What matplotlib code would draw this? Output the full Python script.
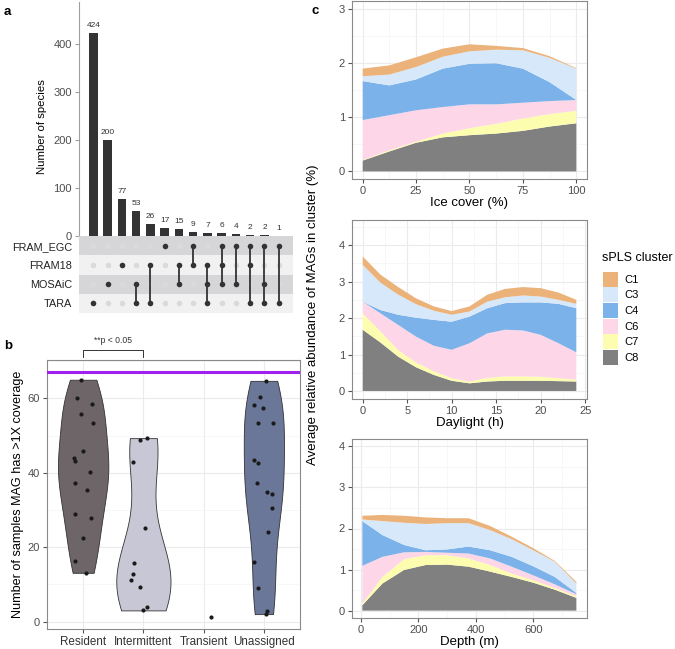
import numpy as np
import matplotlib
matplotlib.use("Agg")
import matplotlib.pyplot as plt
from matplotlib.patches import Patch

plt.rcParams['font.family'] = ['Liberation Sans', 'DejaVu Sans']

# ---- panel a: set intersections
set_names = ["FRAM_EGC", "FRAM18", "MOSAiC", "TARA"]
inter_sizes = [424, 200, 77, 53, 26, 17, 15, 9, 7, 6, 4, 2, 2, 1]
inter_members = [
    ["TARA"], ["MOSAiC"], ["FRAM18"], ["MOSAiC", "TARA"], ["FRAM18", "TARA"],
    ["FRAM_EGC"], ["FRAM18", "MOSAiC"], ["FRAM_EGC", "FRAM18"],
    ["FRAM18", "MOSAiC", "TARA"], ["FRAM_EGC", "FRAM18", "MOSAiC"],
    ["FRAM_EGC", "MOSAiC"], ["FRAM_EGC", "FRAM18", "TARA"],
    ["FRAM_EGC", "MOSAiC", "TARA"], ["FRAM_EGC", "TARA"]]

# ---- panel b: samples with >1X coverage per MAG
groups = ["Resident", "Intermittent", "Transient", "Unassigned"]
resident = [65.0, 60.0, 58.4, 55.8, 53.3, 45.8, 44.0, 43.1, 40.1, 37.2, 35.4, 28.9, 27.8, 22.4, 16.3, 13.1]
resident_jit = [-0.03, -0.10, 0.14, -0.04, 0.17, 0.0, -0.16, -0.13, 0.12, -0.13, 0.07, -0.14, 0.13, 0.0, -0.13, 0.05]
intermittent = [48.7, 49.3, 42.8, 25.2, 15.8, 12.7, 11.2, 9.4, 4.0, 3.0]
intermittent_jit = [-0.05, 0.06, -0.17, 0.02, -0.15, -0.17, -0.20, -0.05, 0.06, -0.01]
transient = [1.3]
transient_jit = [0.12]
unassigned = [64.7, 60.3, 58.2, 57.4, 53.3, 53.3, 43.5, 42.6, 37.2, 34.9, 34.2, 30.4, 24.0, 16.0, 9.1, 2.9, 2.0]
unassigned_jit = [0.04, -0.06, -0.17, -0.01, -0.10, 0.16, -0.16, -0.09, -0.12, 0.05, 0.13, 0.13, 0.07, -0.17, -0.10, 0.06, 0.04]
violin_colors = ["#6d6568", "#c7c7d5", "#9a9aaa", "#6b7799"]
total_samples = 67

# ---- panel c: stacked cluster abundance (%)
clusters = ["C1", "C3", "C4", "C6", "C7", "C8"]
cluster_colors = ["#ebb27a", "#d6e8fa", "#7ab2e9", "#fdd6e8", "#fdfdb0", "#808080"]

ice_cover = [0, 12.5, 25, 37.5, 50, 62.5, 75, 87.5, 100]
ice_c8 = [0.20, 0.37, 0.53, 0.63, 0.67, 0.70, 0.75, 0.83, 0.89]
ice_c7 = [0.01, 0.02, 0.02, 0.07, 0.13, 0.18, 0.23, 0.23, 0.23]
ice_c6 = [0.74, 0.65, 0.58, 0.49, 0.44, 0.36, 0.29, 0.24, 0.20]
ice_c4 = [0.72, 0.55, 0.57, 0.71, 0.75, 0.76, 0.63, 0.35, 0.00]
ice_c3 = [0.09, 0.20, 0.23, 0.22, 0.23, 0.25, 0.34, 0.45, 0.58]
ice_c1 = [0.14, 0.17, 0.18, 0.15, 0.13, 0.07, 0.04, 0.03, 0.01]

daylight = [0, 2, 4, 6, 8, 10, 12, 14, 16, 18, 20, 22, 24]
day_c8 = [1.68, 1.33, 0.94, 0.65, 0.44, 0.28, 0.21, 0.26, 0.28, 0.28, 0.28, 0.27, 0.26]
day_c7 = [0.45, 0.30, 0.18, 0.13, 0.10, 0.07, 0.05, 0.10, 0.12, 0.12, 0.11, 0.08, 0.05]
day_c6 = [0.32, 0.50, 0.69, 0.71, 0.70, 0.78, 1.05, 1.22, 1.28, 1.26, 1.15, 0.96, 0.75]
day_c4 = [0.00, 0.09, 0.28, 0.52, 0.71, 0.77, 0.73, 0.69, 0.73, 0.77, 0.89, 1.08, 1.21]
day_c3 = [1.01, 0.75, 0.55, 0.37, 0.25, 0.19, 0.14, 0.18, 0.16, 0.19, 0.16, 0.11, 0.12]
day_c1 = [0.23, 0.22, 0.21, 0.16, 0.12, 0.10, 0.14, 0.19, 0.23, 0.23, 0.23, 0.20, 0.11]

depth = [5, 75, 150, 225, 300, 375, 450, 525, 600, 675, 750]
dep_c8 = [0.13, 0.66, 0.99, 1.11, 1.12, 1.07, 0.95, 0.82, 0.68, 0.51, 0.31]
dep_c7 = [0.04, 0.16, 0.26, 0.24, 0.23, 0.20, 0.16, 0.08, 0.06, 0.04, 0.04]
dep_c6 = [0.92, 0.49, 0.17, 0.08, 0.06, 0.12, 0.16, 0.17, 0.12, 0.09, 0.05]
dep_c4 = [1.09, 0.53, 0.18, 0.04, 0.08, 0.17, 0.20, 0.24, 0.22, 0.18, 0.03]
dep_c3 = [0.04, 0.34, 0.54, 0.64, 0.64, 0.57, 0.49, 0.43, 0.39, 0.37, 0.23]
dep_c1 = [0.09, 0.15, 0.17, 0.16, 0.12, 0.12, 0.10, 0.06, 0.05, 0.02, 0.04]

W, H = 675, 649
fig = plt.figure(figsize=(W / 100, H / 100), dpi=100)


def box(x0, y0, x1, y1):
    # pixel box (top-left origin) -> figure fraction
    return [x0 / W, 1 - y1 / H, (x1 - x0) / W, (y1 - y0) / H]


TXT = "#4d4d4d"

# ================= panel a =================
axa = fig.add_axes(box(79, 2, 293, 236))
cols = np.arange(1, len(inter_sizes) + 1)
axa.bar(cols, inter_sizes, width=0.6, color="#333333")
for c, v in zip(cols, inter_sizes):
    axa.text(c, v + 8, str(v), ha="center", va="bottom", fontsize=6, color="#333333")
axa.set_xlim(0, 15)
axa.set_ylim(0, 488)
axa.set_yticks([0, 100, 200, 300, 400])
axa.set_xticks([])
for s in ["top", "right", "bottom"]:
    axa.spines[s].set_visible(False)
axa.spines["left"].set_color("#a0a0a0")
axa.tick_params(axis="y", length=3, color="#a0a0a0", labelsize=8, labelcolor=TXT, pad=2)
axa.set_ylabel("Number of species", fontsize=8.2)
axa.yaxis.set_label_coords(-0.148, 0.466)

axm = fig.add_axes(box(79, 236, 293, 313))
axm.set_xlim(0, 15)
axm.set_ylim(len(set_names) - 0.5, -0.5)
band = ["#d6d6d9", "#f1f1f1"]
for i in range(len(set_names)):
    axm.axhspan(i - 0.5, i + 0.5, color=band[i % 2], lw=0, zorder=0)
for c, mem in zip(cols, inter_members):
    rows = [set_names.index(m) for m in mem]
    axm.scatter([c] * len(set_names), range(len(set_names)), s=16, color="#dadada", zorder=2, lw=0)
    if len(rows) > 1:
        axm.plot([c, c], [min(rows), max(rows)], color="#333333", lw=1.3, zorder=3)
    axm.scatter([c] * len(rows), rows, s=16, color="#333333", zorder=4, lw=0)
axm.set_yticks(range(len(set_names)))
axm.set_yticklabels(set_names)
axm.set_xticks([])
axm.tick_params(axis="y", length=0, labelsize=7.8, labelcolor="#222222", pad=5)
for s in axm.spines.values():
    s.set_visible(False)

# ================= panel b =================
axb = fig.add_axes(box(47, 360, 300, 629))
axb.set_xlim(0.4, 4.6)
axb.set_ylim(-2.0, 70.3)
axb.set_yticks([0, 20, 40, 60])
axb.set_yticks([10, 30, 50, 70], minor=True)
axb.set_xticks(range(1, 5))
axb.set_xticklabels(groups)
axb.grid(which="major", color="#ebebeb", lw=0.8)
axb.grid(which="minor", axis="y", color="#f4f4f4", lw=0.5)
axb.set_axisbelow(True)
for s in axb.spines.values():
    s.set_color("#8a8a8a")
    s.set_linewidth(0.8)
axb.tick_params(which="major", length=3, color="#555555", labelsize=8, labelcolor=TXT, pad=2)
axb.tick_params(axis="x", labelsize=8.4, labelcolor="#333333")
axb.tick_params(which="minor", length=0)
axb.set_ylabel("Number of samples MAG has >1X coverage", fontsize=9.1, labelpad=3)


def nrd0(x):
    x = np.asarray(x, float)
    sd = x.std(ddof=1)
    q75, q25 = np.percentile(x, [75, 25])
    lo = min(sd, (q75 - q25) / 1.34)
    return 0.9 * lo * len(x) ** -0.2


def density(x, grid):
    x = np.asarray(x, float)
    bw = nrd0(x)
    z = (grid[:, None] - x[None, :]) / bw
    return np.exp(-0.5 * z ** 2).sum(1) / (len(x) * bw * np.sqrt(2 * np.pi))


group_vals = [resident, intermittent, transient, unassigned]
group_jit = [resident_jit, intermittent_jit, transient_jit, unassigned_jit]
dens = []
for vals in group_vals:
    if len(vals) > 1:
        g = np.linspace(min(vals), max(vals), 512)
        dens.append((g, density(vals, g)))
    else:
        dens.append(None)
gmax = max(d[1].max() for d in dens if d is not None)
for i, d in enumerate(dens):
    if d is None:
        continue
    g, dd = d
    hw = 0.45 * dd / gmax
    axb.fill_betweenx(g, i + 1 - hw, i + 1 + hw, facecolor=violin_colors[i],
                      edgecolor="#333333", lw=0.6, zorder=2)
for i, (vals, jit) in enumerate(zip(group_vals, group_jit)):
    axb.scatter(np.array(jit) + i + 1, vals, s=9, color="#1a1a1a", lw=0, zorder=3)
axb.axhline(total_samples, color="#a020f0", lw=2.2, zorder=4)
axb.plot([1, 1, 2, 2], [71.2, 73.1, 73.1, 71.2], color="#333333", lw=0.7, clip_on=False)
axb.text(1.5, 74.3, "**p < 0.05", ha="center", va="bottom", fontsize=6.2, color="#333333")

# ================= panel c =================
stack_colors = cluster_colors[::-1]


def area_panel(rect, x, series, xlim, xt, xminor, ylim, yt, yminor, xlabel):
    ax = fig.add_axes(rect)
    ax.stackplot(x, series, colors=stack_colors, lw=0, zorder=2)
    ax.set_xlim(*xlim)
    ax.set_ylim(*ylim)
    ax.set_xticks(xt)
    ax.set_xticks(xminor, minor=True)
    ax.set_yticks(yt)
    ax.set_yticks(yminor, minor=True)
    ax.grid(which="major", color="#ebebeb", lw=0.8)
    ax.grid(which="minor", color="#f4f4f4", lw=0.5)
    ax.set_axisbelow(True)
    for s in ax.spines.values():
        s.set_color("#8a8a8a")
        s.set_linewidth(0.8)
    ax.tick_params(which="major", length=3, color="#555555", labelsize=8, labelcolor=TXT, pad=2)
    ax.tick_params(which="minor", length=0)
    ax.set_xlabel(xlabel, fontsize=9.5, labelpad=1)
    return ax


area_panel(box(352, 1, 587, 179), ice_cover,
           [ice_c8, ice_c7, ice_c6, ice_c4, ice_c3, ice_c1],
           (-5, 105), [0, 25, 50, 75, 100], [12.5, 37.5, 62.5, 87.5],
           (-0.14, 3.15), [0, 1, 2, 3], [0.5, 1.5, 2.5], "Ice cover (%)")
area_panel(box(352, 220, 587, 399), daylight,
           [day_c8, day_c7, day_c6, day_c4, day_c3, day_c1],
           (-1.2, 25.2), [0, 5, 10, 15, 20, 25], [2.5, 7.5, 12.5, 17.5, 22.5],
           (-0.22, 4.69), [0, 1, 2, 3, 4], [0.5, 1.5, 2.5, 3.5, 4.5], "Daylight (h)")
area_panel(box(352, 439, 587, 618), depth,
           [dep_c8, dep_c7, dep_c6, dep_c4, dep_c3, dep_c1],
           (-31, 787), [0, 200, 400, 600], [100, 300, 500, 700],
           (-0.18, 4.18), [0, 1, 2, 3, 4], [0.5, 1.5, 2.5, 3.5], "Depth (m)")

fig.text(313 / W, 1 - 315 / H, "Average relative abundance of MAGs in cluster (%)",
         rotation=90, ha="center", va="center", fontsize=9.5)

# legend
fig.text(602 / W, 1 - 258 / H, "sPLS cluster", fontsize=9, va="center", ha="left")
handles = [Patch(facecolor=c, edgecolor="none", label=l) for c, l in zip(cluster_colors, clusters)]
fig.legend(handles=handles, loc="upper left",
           bbox_to_anchor=(603 / W, 1 - 271.5 / H), frameon=False, fontsize=8,
           handlelength=1.35, handleheight=1.7, labelspacing=0.06,
           handletextpad=0.6, borderaxespad=0, borderpad=0)

# panel letters
fig.text(4 / W, 1 - 12 / H, "a", fontweight="bold", fontsize=9.5, va="center")
fig.text(4 / W, 1 - 346 / H, "b", fontweight="bold", fontsize=9.5, va="center")
fig.text(311 / W, 1 - 11 / H, "c", fontweight="bold", fontsize=9.5, va="center")

fig.savefig("out.png", dpi=100, facecolor="white")
